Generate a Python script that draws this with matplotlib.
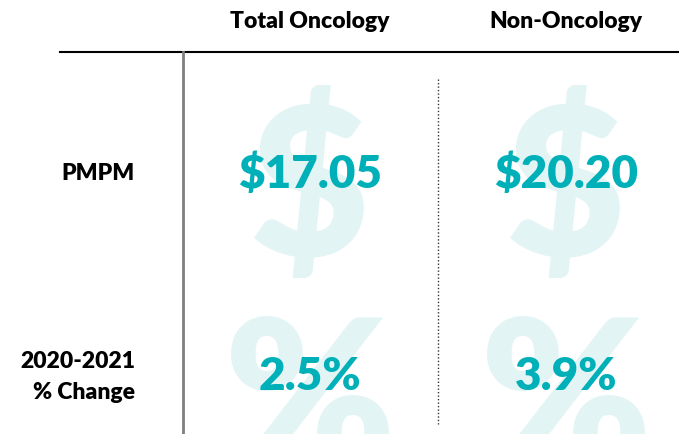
#!/usr/bin/env python3

import matplotlib.pyplot as plt


def set_default_plt_settings():
    """
    Description
    -----------
    Set plt.rc parameters for font family, weight and size in a nice format.
    """

    # Set font sizes
    plt.rc("font", size=16.5)  # controls default text size

    # Get some nicer plot settings
    plt.rcParams["font.family"] = "Lato"
    plt.rcParams["font.weight"] = "heavy"


def draw_table(ax, columns, rows, values, watermarks, xcols, yrows):
    """Draw header, row labels, watermark signs and the values of each cell."""

    teal = "#00b0b8"  # value colour
    pale = "#e3f4f5"  # watermark colour

    # column headers
    for x, col in zip(xcols, columns):
        ax.text(x, 22, col, ha="center", va="center", color="black")

    # rules
    ax.plot([60, 679], [53, 53], color="black", lw=1.5)
    ax.plot([183, 183], [53, 435], color="#7f7f7f", lw=2)
    ax.plot([438, 438], [80, 425], color="#333333", lw=1, linestyle=(0, (1, 1.5)))

    for j, (y, row) in enumerate(zip(yrows, rows)):
        ax.text(135, y, row, ha="right", va="center",
                color="black", linespacing=1.6)
        sign, sign_y = watermarks[j]
        for i, x in enumerate(xcols):
            ax.text(x, sign_y, sign, ha="center", va="center", fontsize=148,
                    color=pale, zorder=1)
            ax.text(x, y, values[j][i], ha="center", va="center", fontsize=33,
                    color=teal, zorder=2)


def main():
    columns = ["Total Oncology", "Non-Oncology"]
    rows = ["PMPM", "2020-2021\n% Change"]
    values = [["$17.05", "$20.20"],
              ["2.5%", "3.9%"]]
    watermarks = [("$", 194), ("%", 408)]

    set_default_plt_settings()

    fig = plt.figure(figsize=(6.79, 4.35), dpi=100)
    ax = fig.add_axes([0, 0, 1, 1])
    ax.set_xlim(0, 679)
    ax.set_ylim(435, 0)
    ax.axis("off")

    draw_table(ax, columns, rows, values, watermarks,
               xcols=[310, 566], yrows=[174, 377])

    plt.savefig("out.png", dpi=100)
    plt.close()


if __name__ == "__main__":
    main()
